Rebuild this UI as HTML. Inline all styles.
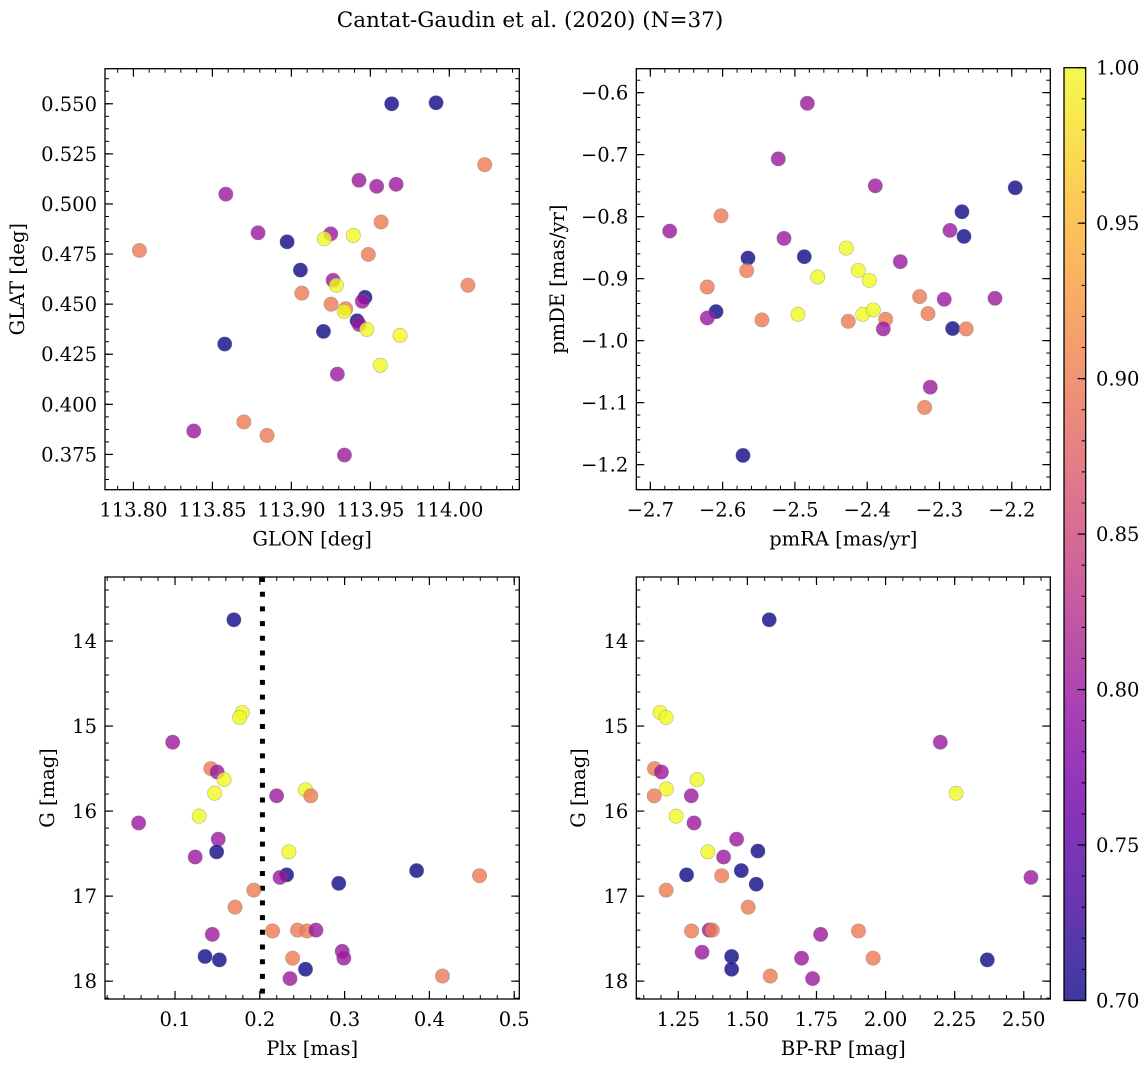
<!DOCTYPE html>
<html><head><meta charset="utf-8"><style>
html,body{margin:0;padding:0;background:#fff;}
svg{display:block;font-family:"DejaVu Serif","Liberation Serif",serif;}
</style></head><body>
<svg id="fig" width="1148" height="1067" viewBox="0 0 1148 1067" xmlns="http://www.w3.org/2000/svg">
<defs>
<linearGradient id="plasma" x1="0" y1="1" x2="0" y2="0">
<stop offset="0" stop-color="#0d0887"/><stop offset="0.1" stop-color="#41049d"/><stop offset="0.2" stop-color="#6a00a8"/><stop offset="0.3" stop-color="#8f0da4"/><stop offset="0.4" stop-color="#b12a90"/><stop offset="0.5" stop-color="#cc4778"/><stop offset="0.6" stop-color="#e16462"/><stop offset="0.7" stop-color="#f2844b"/><stop offset="0.8" stop-color="#fca636"/><stop offset="0.9" stop-color="#fcce25"/><stop offset="1" stop-color="#f0f921"/>
</linearGradient>
</defs>
<text x="530" y="27" text-anchor="middle" font-size="21.5">Cantat-Gaudin et al. (2020) (N=37)</text>
</svg>
<script>
// Panel 1: GLON vs GLAT
const p1Lon=[113.9635,113.9916,114.0224,113.9428,113.9540,113.9663,113.8585,113.9568,113.8789,113.9249,113.9209,113.9392,113.8973,113.8038,113.9487,113.9057,114.0118,113.9264,113.9285,113.9066,113.9466,113.9449,113.9251,113.9344,113.9334,113.9416,113.9429,113.9477,113.9203,113.9688,113.8578,113.9563,113.9291,113.8699,113.8382,113.8846,113.9336];
const p1Lat=[0.5500,0.5505,0.5196,0.5118,0.5088,0.5098,0.5049,0.4910,0.4856,0.4851,0.4826,0.4843,0.4811,0.4768,0.4748,0.4670,0.4594,0.4619,0.4594,0.4555,0.4534,0.4514,0.4500,0.4477,0.4464,0.4417,0.4399,0.4374,0.4364,0.4344,0.4301,0.4195,0.4151,0.3912,0.3867,0.3845,0.3747];
const p1Prob=[0.70,0.70,0.90,0.80,0.80,0.80,0.80,0.90,0.80,0.80,1.00,1.00,0.70,0.90,0.90,0.70,0.90,0.80,1.00,0.90,0.70,0.80,0.90,0.90,1.00,0.70,0.80,1.00,0.70,1.00,0.70,1.00,0.80,0.90,0.80,0.90,0.80];
// Panel 2: pmRA vs pmDE
const p2PmRA=[-2.4828,-2.5230,-2.3888,-2.1952,-2.6022,-2.2689,-2.6732,-2.2855,-2.2661,-2.5151,-2.4289,-2.5649,-2.4870,-2.3542,-2.5667,-2.4123,-2.4685,-2.3971,-2.6212,-2.3274,-2.2934,-2.2232,-2.3159,-2.6091,-2.6212,-2.4957,-2.4062,-2.3916,-2.5456,-2.4262,-2.3744,-2.3777,-2.2818,-2.2630,-2.3127,-2.3205,-2.5718];
const p2PmDE=[-0.6172,-0.7068,-0.7503,-0.7535,-0.7986,-0.7921,-0.8233,-0.8222,-0.8319,-0.8351,-0.8507,-0.8668,-0.8646,-0.8726,-0.8871,-0.8866,-0.8974,-0.9027,-0.9135,-0.9290,-0.9333,-0.9317,-0.9564,-0.9532,-0.9634,-0.9575,-0.9575,-0.9505,-0.9666,-0.9688,-0.9655,-0.9811,-0.9805,-0.9811,-1.0750,-1.1077,-1.1851];
const p2Prob=[0.80,0.80,0.80,0.70,0.90,0.70,0.80,0.80,0.70,0.80,1.00,0.70,0.70,0.80,0.90,1.00,1.00,1.00,0.90,0.90,0.80,0.80,0.90,0.70,0.80,1.00,1.00,1.00,0.90,0.90,0.90,0.80,0.70,0.90,0.80,0.90,0.70];
// Panel 3: Plx vs G
const p3Plx=[0.1694,0.1793,0.1762,0.0973,0.1423,0.1497,0.1579,0.1468,0.2198,0.2539,0.2601,0.1285,0.0571,0.1510,0.1491,0.1238,0.2343,0.2316,0.2238,0.2931,0.3849,0.4591,0.1929,0.1708,0.1440,0.2150,0.2445,0.2556,0.2662,0.1354,0.1523,0.2387,0.2972,0.2991,0.2539,0.2356,0.4154];
const p3G=[13.75,14.84,14.90,15.19,15.50,15.54,15.63,15.79,15.82,15.75,15.82,16.06,16.14,16.33,16.48,16.54,16.48,16.75,16.78,16.85,16.70,16.76,16.93,17.13,17.45,17.41,17.40,17.41,17.40,17.71,17.75,17.73,17.65,17.73,17.86,17.97,17.94];
const p3Prob=[0.70,1.00,1.00,0.80,0.90,0.80,1.00,1.00,0.80,1.00,0.90,1.00,0.80,0.80,0.70,0.80,1.00,0.70,0.80,0.70,0.70,0.90,0.90,0.90,0.80,0.90,0.90,0.90,0.80,0.70,0.70,0.90,0.80,0.80,0.70,0.80,0.90];
const p3Cut=[0.2031];
// Panel 4: BP-RP vs G
const p4BpRp=[1.579,1.184,1.206,2.198,1.164,1.189,1.318,1.207,1.163,1.297,2.255,1.242,1.307,1.461,1.357,1.538,1.414,1.280,1.407,1.478,1.532,2.526,1.206,1.503,1.298,1.362,1.373,1.765,1.902,1.336,1.443,1.696,1.955,2.368,1.443,1.583,1.736];
const p4G=[13.75,14.84,14.90,15.19,15.50,15.54,15.63,15.74,15.82,15.82,15.79,16.06,16.14,16.33,16.48,16.47,16.54,16.75,16.76,16.70,16.86,16.78,16.93,17.13,17.41,17.40,17.40,17.45,17.41,17.66,17.71,17.73,17.73,17.75,17.86,17.94,17.97];
const p4Prob=[0.70,1.00,1.00,0.80,0.90,0.80,1.00,1.00,0.90,0.80,1.00,1.00,0.80,0.80,1.00,0.70,0.80,0.70,0.90,0.70,0.70,0.80,0.90,0.90,0.90,0.80,0.90,0.80,0.90,0.80,0.70,0.80,0.90,0.70,0.70,0.90,0.80];
// Tick labels
const p1XTicks=[113.80,113.85,113.90,113.95,114.00];
const p1YTicks=[0.375,0.400,0.425,0.450,0.475,0.500,0.525,0.550];
const p2XTicks=[-2.7,-2.6,-2.5,-2.4,-2.3,-2.2];
const p2YTicks=[-1.2,-1.1,-1.0,-0.9,-0.8,-0.7,-0.6];
const p3XTicks=[0.1,0.2,0.3,0.4,0.5];
const gTicks=[14,15,16,17,18];
const p4XTicks=[1.25,1.50,1.75,2.00,2.25,2.50];
const cbTicks=[0.70,0.75,0.80,0.85,0.90,0.95,1.00];

const NS="http://www.w3.org/2000/svg";
const svg=document.getElementById('fig');
const FS=19.5;
const stops=[[13,8,135],[65,4,157],[106,0,168],[143,13,164],[177,42,144],[204,71,120],[225,100,98],[242,132,75],[252,166,54],[252,206,37],[240,249,33]];
function plasma(v){let t=Math.max(0,Math.min(1,(v-0.7)/0.3))*10;let i=Math.min(9,Math.floor(t));let f=t-i;const a=stops[i],b=stops[i+1];return 'rgb('+a.map((c,k)=>Math.round(c+(b[k]-c)*f)).join(',')+')';}
function mk(tag,attrs,parent){const e=document.createElementNS(NS,tag);for(const k in attrs)e.setAttribute(k,attrs[k]);(parent||svg).appendChild(e);return e;}
function fmt(v,d){return v.toFixed(d).replace('-','\u2212');}

function panel(o){
  const g=mk('g',{});
  
  
  const L=o.x0,T=o.y0,W=o.w,H=o.h;
  const sx=v=>L+(v-o.xmin)/(o.xmax-o.xmin)*W;
  const sy=o.invert?(v=>T+(v-o.ymin)/(o.ymax-o.ymin)*H):(v=>T+H-(v-o.ymin)/(o.ymax-o.ymin)*H);
  const minor=mk('g',{stroke:'#000','stroke-width':1},g);
  
  
  let start=Math.ceil(o.xmin/o.xminor-1e-6);
  for(let k=start;k*o.xminor<=o.xmax+1e-9;k++){const x=sx(k*o.xminor);mk('line',{x1:x,x2:x,y1:T+H,y2:T+H-4},minor);mk('line',{x1:x,x2:x,y1:T,y2:T+4},minor);}
  start=Math.ceil(o.ymin/o.yminor-1e-6);
  for(let k=start;k*o.yminor<=o.ymax+1e-9;k++){const y=sy(k*o.yminor);mk('line',{x1:L,x2:L+4,y1:y,y2:y},minor);mk('line',{x1:L+W,x2:L+W-4,y1:y,y2:y},minor);}
  o.xt.forEach(v=>{const x=sx(v);
    mk('line',{x1:x,x2:x,y1:T+H,y2:T+H-8,stroke:'#000','stroke-width':1.2},g);
    mk('line',{x1:x,x2:x,y1:T,y2:T+8,stroke:'#000','stroke-width':1.2},g);
    const t=mk('text',{x:x,y:T+H+27,'text-anchor':'middle','font-size':FS},g);
    
    
    t.textContent=fmt(v,o.xd);});
  o.yt.forEach(v=>{const y=sy(v);
    mk('line',{x1:L,x2:L+8,y1:y,y2:y,stroke:'#000','stroke-width':1.2},g);
    mk('line',{x1:L+W,x2:L+W-8,y1:y,y2:y,stroke:'#000','stroke-width':1.2},g);
    const t=mk('text',{x:L-8,y:y+7,'text-anchor':'end','font-size':FS},g);
    
    
    t.textContent=fmt(v,o.yd);});
  if(o.vline){o.vline.forEach(v=>{const l=mk('line',{x1:sx(v),x2:sx(v),y1:T,y2:T+H,stroke:'#000','stroke-width':5,'stroke-dasharray':'5 9.7'},g);
    
    });}
  o.xs.forEach((v,i)=>{const c=mk('circle',{cx:sx(v),cy:sy(o.ys[i]),r:7.2,fill:plasma(o.ps[i]),'fill-opacity':0.8,stroke:'#777','stroke-opacity':0.5,'stroke-width':0.6},g);
    
    });
  const fr=mk('rect',{x:L,y:T,width:W,height:H,fill:'none',stroke:'#000','stroke-width':1.3},g);
  
  
  const xl=mk('text',{x:L+W/2,y:T+H+56,'text-anchor':'middle','font-size':FS},g);
  
  
  xl.textContent=o.xlabel;
  const yl=mk('text',{x:o.ylx,y:T+H/2,'text-anchor':'middle','font-size':FS,transform:'rotate(-90 '+o.ylx+' '+(T+H/2)+')'},g);
  
  
  yl.textContent=o.ylabel;
}
panel({name:'glon-glat-panel',x0:105,y0:68.7,w:414.3,h:421,xmin:113.782,xmax:114.0443,ymin:0.3574,ymax:0.5675,xminor:0.01,yminor:0.00625,xt:p1XTicks,yt:p1YTicks,xd:2,yd:3,xs:p1Lon,ys:p1Lat,ps:p1Prob,xlabel:'GLON [deg]',ylabel:'GLAT [deg]',ylx:24});
panel({name:'pm-panel',x0:636.3,y0:68.7,w:414,h:421,xmin:-2.7194,xmax:-2.1467,ymin:-1.2404,ymax:-0.5614,xminor:0.02,yminor:0.02,xt:p2XTicks,yt:p2YTicks,xd:1,yd:1,xs:p2PmRA,ys:p2PmDE,ps:p2Prob,xlabel:'pmRA [mas/yr]',ylabel:'pmDE [mas/yr]',ylx:564});
panel({name:'plx-g-panel',x0:105,y0:577,w:414.3,h:422,xmin:0.01745,xmax:0.506,ymin:13.247,ymax:18.21,invert:true,xminor:0.02,yminor:0.2,xt:p3XTicks,yt:gTicks,xd:1,yd:0,xs:p3Plx,ys:p3G,ps:p3Prob,vline:p3Cut,xlabel:'Plx [mas]',ylabel:'G [mag]',ylx:54});
panel({name:'color-mag-panel',x0:636.3,y0:577,w:414,h:422,xmin:1.0981,xmax:2.596,ymin:13.247,ymax:18.21,invert:true,xminor:0.0625,yminor:0.2,xt:p4XTicks,yt:gTicks,xd:2,yd:0,xs:p4BpRp,ys:p4G,ps:p4Prob,xlabel:'BP-RP [mag]',ylabel:'G [mag]',ylx:585});

const cb=mk('g',{});


const CT=67.7,CB=1000.5,CL=1064,CW=21.7;
const cy=v=>CB-(v-0.7)/0.3*(CB-CT);
mk('rect',{x:CL,y:CT,width:CW,height:CB-CT,fill:'url(#plasma)','fill-opacity':0.8},cb);
for(let k=70;k<=100;k++){const y=cy(k/100);mk('line',{x1:CL+CW,x2:CL+CW-4,y1:y,y2:y,stroke:'#000','stroke-width':1},cb);}
cbTicks.forEach(v=>{const y=cy(v);
  mk('line',{x1:CL+CW,x2:CL+CW-8,y1:y,y2:y,stroke:'#000','stroke-width':1.2},cb);
  const t=mk('text',{x:1096,y:y+7,'font-size':FS},cb);
  
  
  t.textContent=v.toFixed(2);});
mk('rect',{x:CL,y:CT,width:CW,height:CB-CT,fill:'none',stroke:'#000','stroke-width':1.3},cb);
</script>
</body></html>
